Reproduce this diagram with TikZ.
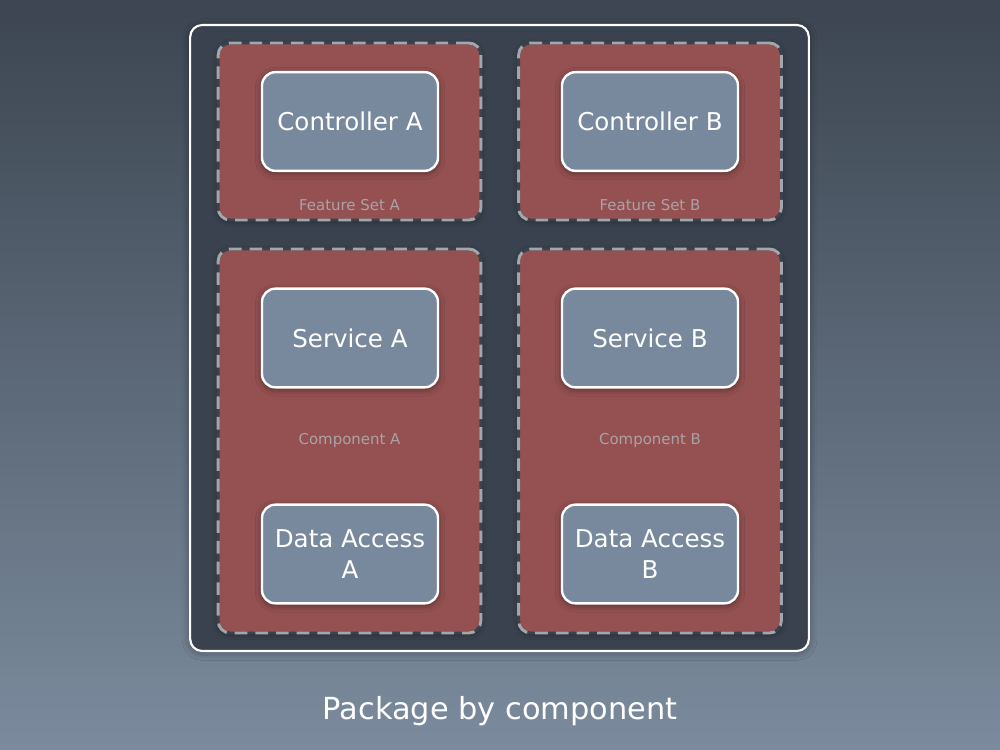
\documentclass[tikz,border=0pt]{standalone}
\usepackage{fontspec}
\setmainfont{DejaVu Sans}
\usetikzlibrary{positioning, shadows.blur}
\definecolor{bgtop}{RGB}{60, 69, 81}
\definecolor{bgbottom}{RGB}{123, 139, 157}
\definecolor{panelfill}{RGB}{57, 66, 78}
\definecolor{featurefill}{RGB}{149, 81, 81}
\definecolor{dashgray}{RGB}{163, 166, 170}
\definecolor{classfill}{RGB}{120, 137, 158}
\definecolor{labelgray}{RGB}{170, 162, 166}

\begin{document}
\begin{tikzpicture}[x=0.75pt, y=-0.75pt,
    panelbox/.style={rectangle, rounded corners=9pt, draw=white, line width=1.6pt,
                     fill=panelfill, minimum width=464pt, minimum height=469.5pt,
                     blur shadow={shadow xshift=0pt, shadow yshift=-1pt, shadow blur radius=6pt, shadow opacity=40}},
    featurebox/.style={rectangle, rounded corners=9pt, draw=panelfill, line width=2.2pt,
                       fill=featurefill, minimum width=197pt,
                       postaction={draw=dashgray, line width=2.2pt, dash pattern=on 9.5pt off 6pt},
                       blur shadow={shadow xshift=0pt, shadow yshift=-1pt, shadow blur radius=4pt, shadow opacity=40}},
    classbox/.style={rectangle, rounded corners=10pt, draw=white, line width=1.8pt,
                     fill=classfill, minimum width=132pt, minimum height=74pt, align=center,
                     text=white, font=\fontsize{18.4}{23.5}\selectfont,
                     blur shadow={shadow xshift=0pt, shadow yshift=-1.5pt, shadow blur radius=5pt, shadow opacity=45}},
    grouplabel/.style={text=labelgray, font=\fontsize{11.2}{13}\selectfont}]

    % Background
    \shade[top color=bgtop, bottom color=bgbottom] (0,0) rectangle (1000,750);
    \useasboundingbox (0,0) rectangle (1000,750);

    % Outer package
    \node[panelbox] (pkg) at (499.5, 338) {};

    % Groups
    \node[featurebox, minimum height=132.75pt] (fsa) at (349.5, 131.5) {};
    \node[featurebox, minimum height=132.75pt] (fsb) at (650, 131.5) {};
    \node[featurebox, minimum height=288pt] (cpa) at (349.5, 441) {};
    \node[featurebox, minimum height=288pt] (cpb) at (650, 441) {};

    \node[grouplabel] (fsalabel) at (349.5, 205) {Feature Set A};
    \node[grouplabel] (fsblabel) at (650, 205) {Feature Set B};
    \node[grouplabel] (cpalabel) at (349.5, 441) {Component A};
    \node[grouplabel] (cpblabel) at (650, 441) {Component B};

    % Classes
    \node[classbox] (ctrla) at (350, 121.5) {Controller A};
    \node[classbox] (ctrlb) at (650, 121.5) {Controller B};
    \node[classbox] (srva) at (350, 338) {Service A};
    \node[classbox] (srvb) at (650, 338) {Service B};
    \node[classbox] (daoa) at (350, 554) {Data Access\\A};
    \node[classbox] (daob) at (650, 554) {Data Access\\B};

    % Title
    \node[text=white, font=\fontsize{22.8}{27}\selectfont] (title) at (500, 711.5) {Package by component};
\end{tikzpicture}
\end{document}
